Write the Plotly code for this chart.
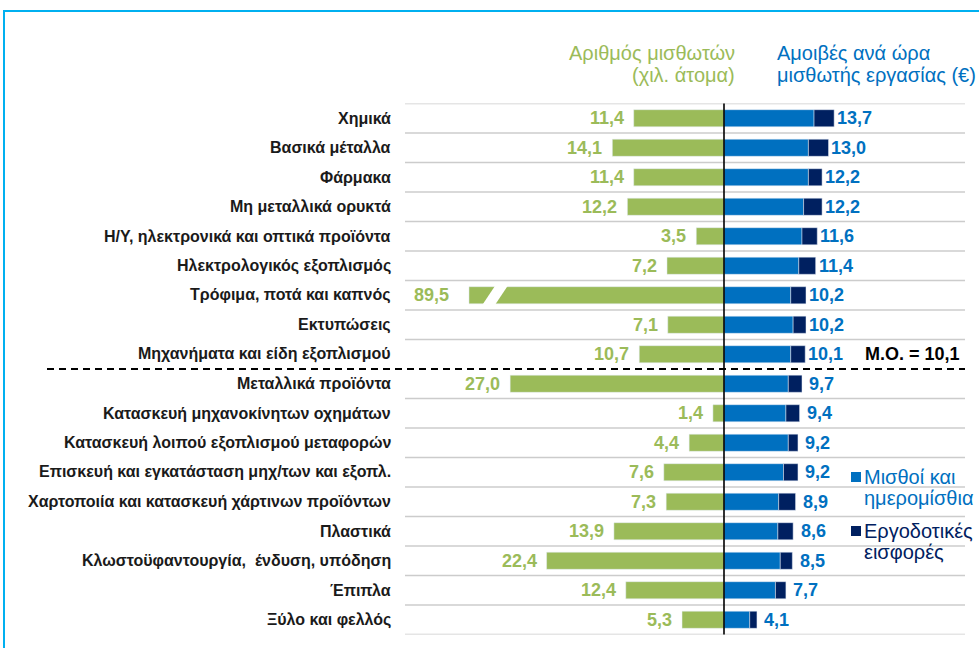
import plotly.graph_objects as go

# ---------------- data ----------------
categories = [
    "Χημικά", "Βασικά μέταλλα", "Φάρμακα", "Μη μεταλλικά ορυκτά",
    "Η/Υ, ηλεκτρονικά και οπτικά προϊόντα", "Ηλεκτρολογικός εξοπλισμός",
    "Τρόφιμα, ποτά και καπνός", "Εκτυπώσεις", "Μηχανήματα και είδη εξοπλισμού",
    "Μεταλλικά προϊόντα", "Κατασκευή μηχανοκίνητων οχημάτων",
    "Κατασκευή λοιπού εξοπλισμού μεταφορών",
    "Επισκευή και εγκατάσταση μηχ/των και εξοπλ.",
    "Χαρτοποιία και κατασκευή χάρτινων προϊόντων", "Πλαστικά",
    "Κλωστοϋφαντουργία,  ένδυση, υπόδηση", "Έπιπλα", "Ξύλο και φελλός",
]
employees = [11.4, 14.1, 11.4, 12.2, 3.5, 7.2, 89.5, 7.1, 10.7,
             27.0, 1.4, 4.4, 7.6, 7.3, 13.9, 22.4, 12.4, 5.3]
wages = [11.2, 10.5, 10.5, 9.9, 9.7, 9.3, 8.3, 8.6, 8.3,
         8.0, 7.7, 8.0, 7.4, 6.8, 6.7, 7.0, 6.4, 3.2]
contributions = [2.5, 2.5, 1.7, 2.3, 1.9, 2.1, 1.9, 1.6, 1.8,
                 1.7, 1.7, 1.2, 1.8, 2.1, 1.9, 1.5, 1.3, 0.9]
hourly_total = [13.7, 13.0, 12.2, 12.2, 11.6, 11.4, 10.2, 10.2, 10.1,
                9.7, 9.4, 9.2, 9.2, 8.9, 8.6, 8.5, 7.7, 4.1]
average = 10.1
average_label = "Μ.Ο. = 10,1"
header_left = ["Αριθμός μισθωτών", "(χιλ. άτομα)"]
header_right = ["Αμοιβές ανά ώρα", "μισθωτής εργασίας (€)"]
legend_wages = ["Μισθοί και", "ημερομίσθια"]
legend_contrib = ["Εργοδοτικές", "εισφορές"]

# ---------------- styling / geometry ----------------
W, H = 979, 648
GREEN = "#9BBB59"
BLUE = "#0070C0"
NAVY = "#002060"
GRID = "#CCCCCC"
FONT = "Arial, Liberation Sans, sans-serif"

AX_X = 724          # px of central axis
LEFT_START = 405
RIGHT_END = 965
PX_LEFT = 7.92      # px per unit (employees)
PX_RIGHT = 8.04     # px per unit (euros)
TOP_PX, BOT_PX = 103.5, 634.5
BREAK_CAP = 32.2    # displayed length of broken bar
BAR_W = 0.58

n = len(categories)
rows = list(range(n))
px = lambda v: v / W
py = lambda v: 1 - v / H

left_range = (AX_X - LEFT_START) / PX_LEFT
right_range = (RIGHT_END - AX_X) / PX_RIGHT

shown_emp = [min(v, BREAK_CAP) for v in employees]

fig = go.Figure()
fig.add_trace(go.Bar(
    y=rows, x=shown_emp, orientation="h", marker_color=GREEN,
    width=BAR_W, xaxis="x", yaxis="y", hoverinfo="skip", showlegend=False))
fig.add_trace(go.Bar(
    y=rows, x=wages, orientation="h", marker_color=BLUE,
    width=BAR_W, xaxis="x2", yaxis="y", hoverinfo="skip", showlegend=False))
fig.add_trace(go.Bar(
    y=rows, x=contributions, base=wages, orientation="h", marker_color=NAVY,
    width=BAR_W, xaxis="x2", yaxis="y", hoverinfo="skip", showlegend=False))

shapes = []
annotations = []

fmt = lambda v: f"{v:.1f}".replace(".", ",")

# separator index: after last row with total >= average
sep = max(i for i, t in enumerate(hourly_total) if t >= average) + 0.5

# grid lines
for k in range(n + 1):
    yv = k - 0.5
    if abs(yv - sep) < 1e-9:
        shapes.append(dict(type="line", xref="paper", yref="y",
                           x0=px(47), x1=px(RIGHT_END), y0=yv, y1=yv,
                           line=dict(color="black", width=2, dash="7px,5px"), layer="below"))
    else:
        shapes.append(dict(type="line", xref="paper", yref="y",
                           x0=px(LEFT_START), x1=px(RIGHT_END), y0=yv, y1=yv,
                           line=dict(color=GRID, width=1.3), layer="below"))

# central axis line
shapes.append(dict(type="line", xref="paper", yref="y", x0=px(AX_X), x1=px(AX_X),
                   y0=-0.55, y1=n - 0.4, line=dict(color="black", width=1.6), layer="above"))

# break marks for truncated bars
for i, v in enumerate(employees):
    if v > BREAK_CAP:
        m = BREAK_CAP - 3.3
        w = 1.6
        s = 0.8
        yb, yt = i + BAR_W / 2 + 0.03, i - BAR_W / 2 - 0.03
        path = (f"M {m + s + w/2} {yb} L {m + s - w/2} {yb} "
                f"L {m - s - w/2} {yt} L {m - s + w/2} {yt} Z")
        shapes.append(dict(type="path", xref="x", yref="y", path=path,
                           fillcolor="white", line=dict(width=0), layer="above"))

# category labels
for i, c in enumerate(categories):
    annotations.append(dict(x=px(393), xref="paper", y=i, yref="y", text=f"<b>{c}</b>",
                            xanchor="right", yanchor="middle", showarrow=False,
                            font=dict(family=FONT, size=16, color="#1a1a1a")))

# green value labels
for i, v in enumerate(employees):
    annotations.append(dict(x=shown_emp[i], xref="x", y=i, yref="y", text=f"<b>{fmt(v)}</b>",
                            xanchor="right", yanchor="middle", showarrow=False,
                            xshift=-18 if v > BREAK_CAP else -8,
                            font=dict(family=FONT, size=18, color=GREEN)))

# blue value labels
for i, t in enumerate(hourly_total):
    annotations.append(dict(x=t, xref="x2", y=i, yref="y", text=f"<b>{fmt(t)}</b>",
                            xanchor="center", yanchor="middle", showarrow=False, xshift=20,
                            font=dict(family=FONT, size=18, color=BLUE)))

# average label
annotations.append(dict(x=px(863), xref="paper", y=sep - 0.5, yref="y",
                        text=f"<b>{average_label}</b>", xanchor="left", yanchor="middle",
                        showarrow=False, font=dict(family=FONT, size=18, color="black")))

# headers
for j, line in enumerate(header_left):
    annotations.append(dict(x=px(737), xref="paper", y=py(53 + 22 * j), yref="paper",
                            text=line, xanchor="right", yanchor="middle", showarrow=False,
                            font=dict(family=FONT, size=20, color=GREEN)))
for j, line in enumerate(header_right):
    annotations.append(dict(x=px(775), xref="paper", y=py(53 + 22 * j), yref="paper",
                            text=line, xanchor="left", yanchor="middle", showarrow=False,
                            font=dict(family=FONT, size=20, color=BLUE)))

# legend
for (lines, col, yc) in [(legend_wages, BLUE, 477), (legend_contrib, NAVY, 531)]:
    shapes.append(dict(type="rect", xref="paper", yref="paper",
                       x0=px(851), x1=px(861), y0=py(yc + 5), y1=py(yc - 5),
                       fillcolor=col, line=dict(width=0)))
    for j, line in enumerate(lines):
        annotations.append(dict(x=px(862), xref="paper", y=py(yc + 21 * j), yref="paper",
                                text=line, xanchor="left", yanchor="middle", showarrow=False,
                                font=dict(family=FONT, size=20, color=col)))

# frame
shapes.append(dict(type="rect", xref="paper", yref="paper",
                   x0=px(4), x1=px(W + 20), y0=py(H + 20), y1=py(11),
                   line=dict(color="#00B0F0", width=2), fillcolor="rgba(0,0,0,0)"))

fig.update_layout(
    width=W, height=H, margin=dict(l=0, r=0, t=0, b=0),
    paper_bgcolor="white", plot_bgcolor="white",
    barmode="overlay", bargap=0,
    shapes=shapes, annotations=annotations,
    xaxis=dict(domain=[px(LEFT_START), px(AX_X)], range=[left_range, 0],
               visible=False, fixedrange=True, anchor="y"),
    xaxis2=dict(domain=[px(AX_X), px(RIGHT_END)], range=[0, right_range],
                visible=False, fixedrange=True, anchor="y"),
    yaxis=dict(domain=[py(BOT_PX), py(TOP_PX)], range=[n - 0.5, -0.5],
               visible=False, fixedrange=True),
    font=dict(family=FONT),
)

fig.write_html("out.html", config={"displayModeBar": False, "staticPlot": True},
               post_script="document.body.style.margin='0';document.body.style.overflow='hidden';")
